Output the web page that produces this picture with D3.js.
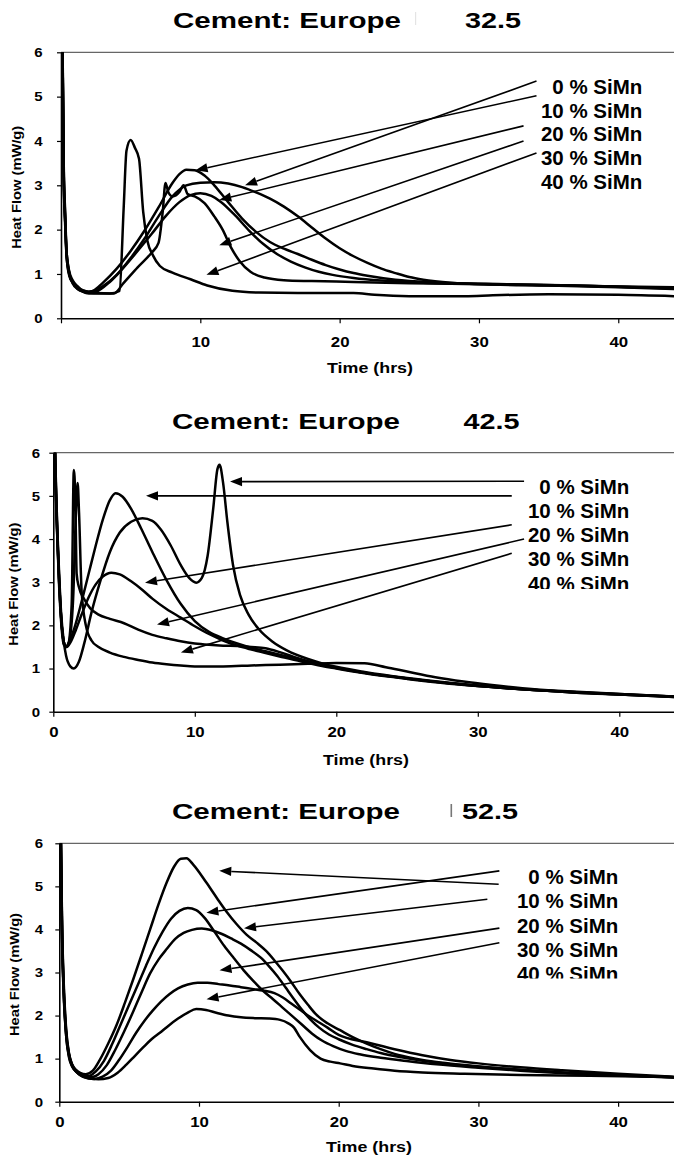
<!DOCTYPE html>
<html><head><meta charset="utf-8">
<script src="https://cdn.jsdelivr.net/npm/d3@7"></script>
<style>
body{margin:0;background:#fff}
svg{display:block}
text{font-family:"Liberation Sans",Arial,Helvetica,sans-serif;font-weight:bold;fill:#000}
</style></head>
<body><svg id="chart" width="674" height="1156"></svg>
<script>
// ---------------- data ----------------
const titleText = "Cement: Europe";
const grades = ["32.5", "42.5", "52.5"];
const seriesLabels = ["0 % SiMn", "10 % SiMn", "20 % SiMn", "30 % SiMn", "40 % SiMn"];
const xTicks = [0, 10, 20, 30, 40];
const yTicks = [0, 1, 2, 3, 4, 5, 6];
const xLabel = "Time (hrs)";
const yLabel = "Heat Flow (mW/g)";

// Cement 32.5  [time (hrs), heat flow (mW/g)]
const c325_0 = [[0,9],[0.1,6.5],[0.2,3.3],[0.3,2.3],[0.4,1.45],[0.6,1.0],[0.85,0.8],[1.2,0.7],[1.6,0.63],[2.0,0.6],[2.4,0.62],[3,0.72],[4,0.98],[5,1.36],[6,1.8],[7,2.3],[8,2.75],[9,3.0],[10,3.06],[11,3.07],[12,3.04],[13,2.96],[14,2.84],[15,2.7],[16,2.52],[17,2.3],[18,2.05],[19,1.8],[20,1.58],[21,1.4],[22,1.25],[23,1.12],[24,1.02],[25,0.93],[26,0.87],[28,0.8],[31,0.76],[35,0.74],[40,0.7],[44,0.66]];
const c325_10 = [[0,9],[0.1,6.4],[0.2,3.2],[0.3,2.2],[0.4,1.4],[0.6,0.98],[0.85,0.82],[1.2,0.68],[1.6,0.62],[2.0,0.6],[2.3,0.62],[3,0.8],[4,1.12],[5,1.52],[6,1.98],[7,2.5],[8,3.05],[8.5,3.25],[9,3.35],[9.6,3.34],[10.3,3.22],[11,3.0],[12,2.62],[13,2.25],[14,1.95],[15,1.72],[16,1.57],[17,1.45],[18,1.32],[19,1.2],[20,1.1],[21,1.02],[22,0.96],[24,0.87],[27,0.81],[32,0.77],[38,0.73],[44,0.67]];
const c325_20 = [[0,9],[0.1,6.3],[0.2,3.1],[0.3,2.2],[0.4,1.5],[0.6,1.02],[0.85,0.78],[1.2,0.66],[1.6,0.6],[2.0,0.58],[2.5,0.6],[3.5,0.82],[4.5,1.15],[5.5,1.52],[6.5,1.9],[7.5,2.3],[8.5,2.62],[9.3,2.78],[10,2.82],[10.8,2.76],[11.5,2.62],[12.5,2.32],[13.5,1.98],[14.5,1.68],[15.5,1.45],[16.5,1.28],[17.5,1.15],[18.5,1.05],[19.5,0.98],[21,0.91],[23,0.85],[26,0.8],[31,0.77],[37,0.74],[44,0.68]];
const c325_30 = [[0,9],[0.1,6.6],[0.2,3.4],[0.3,2.4],[0.4,1.5],[0.6,1.05],[0.85,0.85],[1.2,0.72],[1.6,0.6],[2.0,0.56],[2.5,0.56],[3.8,0.56],[4.5,0.8],[5.5,1.15],[6.5,1.48],[7.0,1.7],[7.3,2.4],[7.5,3.05],[7.7,2.85],[8.0,2.75],[8.5,2.85],[8.8,3.0],[9.1,2.8],[9.6,2.75],[10.3,2.6],[11,2.3],[11.6,2.0],[12.2,1.6],[12.8,1.3],[13.6,1.05],[14.6,0.92],[16,0.86],[18,0.84],[21,0.82],[25,0.79],[30,0.77],[36,0.74],[44,0.7]];
const c325_40 = [[0,9],[0.1,6.5],[0.2,3.0],[0.3,2.1],[0.4,1.4],[0.6,0.95],[0.85,0.8],[1.2,0.66],[1.6,0.6],[2.0,0.58],[2.5,0.57],[3.5,0.56],[4.2,0.62],[4.5,2.5],[4.7,3.78],[5.0,4.02],[5.3,3.85],[5.6,3.6],[5.9,2.4],[6.2,1.75],[6.6,1.42],[7.1,1.18],[8,1.03],[9.3,0.88],[10.5,0.74],[12.3,0.62],[14.2,0.58],[17,0.57],[21,0.57],[22.5,0.53],[25,0.5],[29,0.5],[31,0.52],[35,0.54],[40,0.53],[44,0.5]];

// Cement 42.5
const c425_0 = [[0,9],[0.1,6.6],[0.25,4.6],[0.4,3.3],[0.55,2.3],[0.75,1.6],[0.9,1.3],[1.2,1.05],[1.45,1.0],[1.8,1.15],[2.2,1.6],[2.7,2.3],[3.3,3.0],[4,3.7],[4.7,4.15],[5.5,4.4],[6.3,4.48],[7,4.42],[7.6,4.22],[8.3,3.85],[9,3.4],[9.6,3.1],[10.1,2.99],[10.5,3.1],[10.9,3.6],[11.3,4.7],[11.6,5.62],[11.75,5.72],[12.0,5.3],[12.3,4.4],[12.7,3.4],[13.2,2.7],[13.8,2.25],[14.5,1.92],[15.5,1.62],[16.5,1.42],[18,1.22],[19,1.12],[20,1.04],[22,0.92],[25,0.78],[28,0.67],[31,0.58],[34,0.5],[37,0.45],[40,0.4],[44,0.34]];
const c425_10 = [[0,9],[0.1,6.4],[0.25,4.4],[0.4,3.1],[0.55,2.2],[0.75,1.6],[0.9,1.5],[1.1,1.6],[1.5,1.95],[2,2.55],[2.5,3.2],[3,3.85],[3.5,4.45],[4,4.9],[4.4,5.06],[4.9,4.98],[5.5,4.7],[6.2,4.25],[7,3.7],[8,3.05],[9,2.5],[10,2.1],[11,1.85],[12,1.7],[13,1.58],[14,1.48],[15,1.4],[16,1.32],[17,1.24],[18,1.16],[19,1.08],[20,1.02],[22,0.9],[25,0.77],[28,0.66],[31,0.57],[34,0.5],[37,0.45],[40,0.41],[44,0.35]];
const c425_20 = [[0,9],[0.1,6.2],[0.25,4.3],[0.4,3.0],[0.55,2.1],[0.75,1.55],[0.95,1.5],[1.2,1.6],[1.6,1.9],[2,2.25],[2.5,2.65],[3,2.95],[3.5,3.13],[4.1,3.22],[4.7,3.18],[5.5,3.02],[6.3,2.82],[7,2.62],[8,2.38],[9,2.18],[10,1.98],[11,1.8],[12,1.65],[13,1.53],[14,1.44],[15,1.36],[16,1.28],[17,1.2],[18,1.13],[19,1.06],[20,1.0],[22,0.89],[25,0.76],[28,0.65],[31,0.57],[34,0.5],[37,0.44],[40,0.4],[44,0.35]];
const c425_30 = [[0,9],[0.1,6.5],[0.25,4.5],[0.4,3.2],[0.55,2.2],[0.75,1.6],[0.9,1.5],[1.05,1.55],[1.3,2.5],[1.45,5.6],[1.55,5.0],[1.65,3.2],[1.8,2.9],[2.2,2.6],[2.6,2.4],[3.2,2.25],[4,2.15],[5,2.05],[6,1.9],[7,1.78],[8,1.7],[9,1.63],[10,1.58],[11,1.55],[12,1.53],[13,1.52],[14,1.5],[15,1.47],[16,1.38],[17,1.27],[18,1.17],[19,1.08],[20,1.01],[22,0.9],[25,0.77],[28,0.66],[31,0.57],[34,0.5],[37,0.44],[40,0.4],[44,0.34]];
const c425_40 = [[0,9],[0.1,6.3],[0.25,4.4],[0.4,3.1],[0.55,2.2],[0.75,1.6],[0.9,1.5],[1.1,1.6],[1.4,2.6],[1.6,4.6],[1.72,5.3],[1.82,4.6],[2.0,2.8],[2.3,2.0],[2.7,1.65],[3.2,1.5],[4,1.37],[5,1.27],[6,1.2],[7,1.14],[8,1.1],[9,1.07],[10,1.05],[12,1.05],[14,1.07],[16,1.09],[18,1.11],[20,1.13],[22,1.12],[23.5,1.03],[25,0.93],[27,0.8],[29,0.7],[31,0.62],[34,0.52],[37,0.46],[40,0.41],[44,0.35]];

// Cement 52.5
const c525_0 = [[0,9],[0.1,6.5],[0.2,4.0],[0.3,2.8],[0.5,1.6],[0.7,1.1],[0.9,0.88],[1.2,0.74],[1.5,0.67],[1.9,0.64],[2.4,0.72],[2.9,0.97],[3.5,1.35],[4.1,1.78],[4.7,2.3],[5.3,2.85],[5.9,3.42],[6.5,4.0],[7.1,4.58],[7.7,5.1],[8.2,5.45],[8.7,5.64],[9.1,5.65],[9.6,5.5],[10.5,5.1],[11.3,4.72],[12,4.4],[12.7,4.12],[13.4,3.88],[14.1,3.7],[14.8,3.5],[15.4,3.28],[16,3.04],[16.6,2.78],[17.2,2.5],[17.8,2.25],[18.4,2.02],[19.2,1.82],[20.1,1.66],[21,1.5],[22,1.35],[23,1.22],[24,1.11],[25.5,1.0],[27,0.92],[29,0.85],[31,0.79],[34,0.72],[37,0.66],[40,0.62],[44,0.57]];
const c525_10 = [[0,9],[0.1,6.4],[0.2,3.9],[0.3,2.7],[0.5,1.55],[0.7,1.08],[0.9,0.86],[1.2,0.72],[1.6,0.63],[2.1,0.6],[2.6,0.7],[3.2,0.95],[3.8,1.35],[4.4,1.8],[5,2.25],[5.6,2.7],[6.2,3.15],[6.8,3.58],[7.4,3.95],[8,4.25],[8.6,4.43],[9.2,4.5],[9.8,4.45],[10.4,4.27],[11.1,3.95],[11.8,3.62],[12.5,3.33],[13.2,3.05],[13.9,2.8],[14.6,2.57],[15.3,2.38],[16,2.18],[16.7,1.98],[17.4,1.78],[18.1,1.58],[18.8,1.42],[19.6,1.29],[20.5,1.18],[21.5,1.1],[23,1.02],[25,0.94],[27,0.87],[30,0.79],[33,0.72],[37,0.65],[40,0.61],[44,0.56]];
const c525_20 = [[0,9],[0.1,6.6],[0.2,4.1],[0.3,2.9],[0.5,1.65],[0.7,1.12],[0.9,0.87],[1.2,0.7],[1.7,0.6],[2.3,0.57],[2.8,0.64],[3.4,0.85],[4,1.2],[4.6,1.6],[5.3,2.1],[5.9,2.55],[6.5,2.98],[7.1,3.3],[7.7,3.55],[8.3,3.78],[8.9,3.92],[9.5,3.99],[10.2,4.02],[10.9,3.98],[11.6,3.9],[12.3,3.79],[13,3.67],[13.7,3.52],[14.4,3.35],[15,3.15],[15.6,2.92],[16.2,2.65],[16.8,2.38],[17.4,2.12],[18,1.9],[18.6,1.72],[19.3,1.56],[20,1.45],[21,1.32],[22,1.22],[23,1.13],[24.5,1.03],[26,0.95],[28,0.87],[31,0.79],[34,0.72],[37,0.66],[40,0.62],[44,0.57]];
const c525_30 = [[0,9],[0.1,6.3],[0.2,3.8],[0.3,2.7],[0.5,1.5],[0.7,1.05],[0.9,0.84],[1.2,0.7],[1.7,0.58],[2.5,0.53],[3.1,0.58],[3.7,0.72],[4.3,0.98],[4.9,1.28],[5.5,1.6],[6.1,1.88],[6.7,2.12],[7.3,2.33],[7.9,2.5],[8.5,2.63],[9.2,2.72],[9.9,2.76],[10.6,2.76],[11.4,2.73],[12.2,2.7],[13,2.66],[13.8,2.62],[14.6,2.58],[15.4,2.52],[16,2.42],[16.6,2.28],[17.2,2.14],[17.8,2.0],[18.4,1.88],[19.2,1.72],[20,1.55],[22,1.38],[24,1.22],[26,1.08],[28,0.97],[30,0.89],[33,0.8],[36,0.73],[40,0.65],[44,0.58]];
const c525_40 = [[0,9],[0.1,6.2],[0.2,3.7],[0.3,2.6],[0.5,1.5],[0.7,1.02],[0.9,0.83],[1.2,0.7],[1.7,0.58],[2.3,0.53],[2.8,0.52],[3.5,0.55],[4.2,0.68],[4.8,0.86],[5.4,1.06],[6,1.26],[6.6,1.45],[7.2,1.6],[7.8,1.76],[8.5,1.93],[9.2,2.07],[9.8,2.15],[10.5,2.13],[11.3,2.06],[12.1,2.0],[13,1.96],[14,1.94],[15,1.93],[15.8,1.9],[16.4,1.82],[16.8,1.72],[17.2,1.51],[17.95,1.2],[18.7,1.0],[19.4,0.93],[20.1,0.89],[21,0.83],[22.5,0.77],[24,0.72],[26,0.68],[29,0.65],[33,0.62],[38,0.6],[44,0.57]];

// annotation arrows: [label-end time, label-end value, tip time, tip value]
const arrows325 = [[34.13,5.35,13.21,3.00],[34.13,5.02,9.66,3.34],[33.2,4.34,11.36,2.67],[33.2,4.0,11.36,1.65],[34.13,3.73,10.44,0.98]];
const arrows425 = [[33.27,5.34,12.49,5.33],[32.4,5.0,6.55,5.0],[32.4,4.33,6.48,2.99],[33.27,4.0,7.33,2.02],[32.4,3.67,9.02,1.37]];
const arrows525 = [[31.45,5.05,11.45,5.36],[31.5,5.36,10.53,4.39],[30.64,4.70,13.22,4.03],[31.5,4.03,11.47,3.05],[31.5,3.69,10.54,2.38]];

// ---------------- layout ----------------
const panels = [
  {grade: grades[0], series:[c325_0,c325_10,c325_20,c325_30,c325_40], arrows: arrows325,
   x0:61, x1:674, yT:52.3, yB:318.3, titleY:27.5, titleX:173, gradeX:465, mark:[415,12,1.2,13,"#e4e4e4"],
   yLabX:20.5, tickLabR:42.5, xTickBase:347.3, xTitleY:373, xTitleX:370,
   legR:642.3, legY:[94,117.5,141.2,165,189], legClip:null, showZero:false},
  {grade: grades[1], series:[c425_0,c425_10,c425_20,c425_30,c425_40], arrows: arrows425,
   x0:53.3, x1:675.9, yT:452.7, yB:711.7, titleY:429, titleX:172, gradeX:463.5, mark:null,
   yLabX:18, tickLabR:40, xTickBase:737.3, xTitleY:765, xTitleX:366,
   legR:629.3, legY:[494,518.3,542,566,590.5], legClip:589, showZero:true},
  {grade: grades[2], series:[c525_0,c525_10,c525_20,c525_30,c525_40], arrows: arrows525,
   x0:59.3, x1:674, yT:843.3, yB:1101.7, titleY:818.5, titleX:172, gradeX:462, mark:[450.5,804,1.6,13,"#777"],
   yLabX:18.5, tickLabR:43, xTickBase:1126.7, xTitleY:1151.5, xTitleX:369,
   legR:618.3, legY:[884,908.3,932.7,956.8,981], legClip:978.5, showZero:true}
];

const svg = d3.select("#chart");
const defs = svg.append("defs");

function stretch(sel, f){
  sel.each(function(){
    const L = this.getComputedTextLength();
    d3.select(this).attr("textLength", L*f).attr("lengthAdjust","spacingAndGlyphs");
  });
}

panels.forEach((p, i) => {
  const x = d3.scaleLinear().domain([0, 44]).range([p.x0, p.x1]);
  const y = d3.scaleLinear().domain([0, 6]).range([p.yB, p.yT]);
  const g = svg.append("g");

  // title
  g.append("text").attr("x", p.titleX).attr("y", p.titleY).style("font-size","21.5px")
    .attr("textLength", 228).attr("lengthAdjust","spacingAndGlyphs").text(titleText);
  g.append("text").attr("x", p.gradeX).attr("y", p.titleY).style("font-size","21.5px")
    .attr("textLength", 56).attr("lengthAdjust","spacingAndGlyphs").text(p.grade);
  if (p.mark) g.append("rect").attr("x",p.mark[0]).attr("y",p.mark[1]).attr("width",p.mark[2]).attr("height",p.mark[3]).attr("fill",p.mark[4]);

  // clip for plot
  const cid = "clip"+i;
  defs.append("clipPath").attr("id", cid).append("rect")
    .attr("x", p.x0 - 1).attr("y", p.yT).attr("width", 674 - p.x0 + 2).attr("height", p.yB - p.yT);

  // top frame line
  g.append("line").attr("x1", p.x0).attr("x2", 674).attr("y1", p.yT).attr("y2", p.yT)
    .attr("stroke", "#666").attr("stroke-width", 1.3);

  // curves
  const line = d3.line().x(d => x(d[0])).y(d => y(d[1])).curve(d3.curveMonotoneX);
  g.append("g").attr("clip-path", `url(#${cid})`).selectAll("path").data(p.series).join("path")
    .attr("d", line).attr("fill","none").attr("stroke","#000").attr("stroke-width",2.5)
    .attr("stroke-linejoin","round");

  // axes
  const xAxis = d3.axisBottom(x).tickValues(xTicks).tickSize(5).tickSizeOuter(0)
    .tickFormat(d => (d === 0 && !p.showZero) ? "" : d3.format("d")(d));
  const xg = g.append("g").attr("transform", `translate(0,${p.yB})`).call(xAxis);
  xg.attr("font-family", null).attr("font-size", null);
  xg.select(".domain").attr("stroke","#000").attr("stroke-width",1.4);
  xg.selectAll(".tick line").attr("stroke","#000").attr("stroke-width",1.2);
  xg.selectAll(".tick text").attr("y", p.xTickBase - p.yB).attr("dy", null).style("font-size","14px");
  stretch(xg.selectAll(".tick text"), 1.2);

  const yAxis = d3.axisLeft(y).tickValues(yTicks).tickSize(4).tickSizeOuter(0).tickFormat(d3.format("d"));
  const yg = g.append("g").attr("transform", `translate(${p.x0},0)`).call(yAxis);
  yg.attr("font-family", null).attr("font-size", null);
  yg.select(".domain").attr("stroke","#000").attr("stroke-width",1.6);
  yg.selectAll(".tick line").attr("stroke","#000").attr("stroke-width",1.2);
  yg.selectAll(".tick text").attr("x", p.tickLabR - p.x0).attr("dy","0.36em").style("font-size","12px");
  stretch(yg.selectAll(".tick text"), 1.25);

  // axis titles
  g.append("text").attr("text-anchor","middle")
    .attr("transform", `translate(${p.yLabX},${(p.yT+p.yB)/2 + 2}) rotate(-90)`)
    .style("font-size","13px").attr("textLength",123).attr("lengthAdjust","spacingAndGlyphs").text(yLabel);
  g.append("text").attr("text-anchor","middle").attr("x", p.xTitleX).attr("y", p.xTitleY)
    .style("font-size","14.5px").attr("textLength",86).attr("lengthAdjust","spacingAndGlyphs").text(xLabel);

  // arrows
  const ag = g.append("g");
  p.arrows.forEach(a => {
    const sx = x(a[0]), sy = y(a[1]), tx = x(a[2]), ty = y(a[3]);
    const ang = Math.atan2(ty - sy, tx - sx);
    const L = 12, W = 4.6;
    const bx = tx - L*Math.cos(ang), by = ty - L*Math.sin(ang);
    ag.append("line").attr("x1", sx).attr("y1", sy).attr("x2", bx).attr("y2", by)
      .attr("stroke","#000").attr("stroke-width",1.6);
    const px = -Math.sin(ang), py = Math.cos(ang);
    ag.append("path").attr("d", `M${tx},${ty}L${bx+W*px},${by+W*py}L${bx-W*px},${by-W*py}Z`).attr("fill","#000");
  });

  // legend labels
  const lg = g.append("g");
  if (p.legClip !== null) {
    const lid = "legclip"+i;
    defs.append("clipPath").attr("id", lid).append("rect")
      .attr("x", 0).attr("y", p.yT - 10).attr("width", 674).attr("height", p.legClip - (p.yT - 10));
    lg.attr("clip-path", `url(#${lid})`);
  }
  lg.selectAll("text").data(seriesLabels).join("text")
    .attr("x", p.legR).attr("y", (d, k) => p.legY[k]).attr("text-anchor","end")
    .style("font-size","20.5px").text(d => d);
});
</script>
</body></html>
